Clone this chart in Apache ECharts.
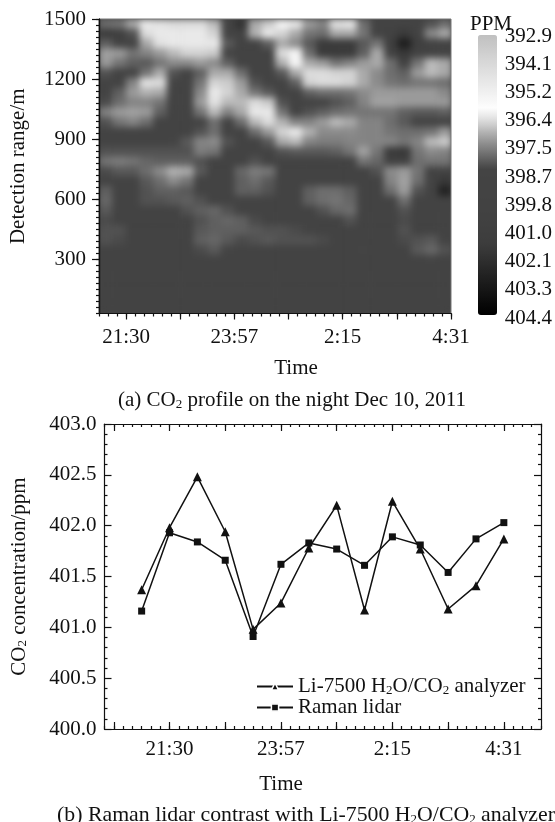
<!DOCTYPE html>
<html>
<head>
<meta charset="utf-8">
<style>
  html, body { margin: 0; background: #fff; }
  #heatBox { position: absolute; left: 98.5px; top: 19px; width: 352.5px; height: 294.5px; overflow: hidden; background: #444; }
  #heat { width: 352.5px; height: 294.5px; filter: blur(3.5px); }
  #main { position: absolute; left: 0; top: 0; width: 555px; height: 822px; }
</style>
<script src="https://cdn.jsdelivr.net/npm/echarts@6/dist/echarts.min.js"></script>
</head>
<body>
<div id="heatBox"><div id="heat"></div></div>
<div id="main"></div>
<script>
// profile values in ppm, one list per height band, top of the picture first
const B = 399.5; // the flat dark background level
const r00 = [397.8,397.7,397.0,396.2,396.3,396.4,396.4,396.4,396.8,B,402.0,397.0,396.6,396.0,396.2,397.2,397.5,396.3,396.2,397.8,B,B,B,B,398.2,397.8];
const r01 = [401.5,401.0,398.2,396.4,396.2,396.2,396.2,396.2,396.5,B,B,396.9,396.2,396.5,397.0,397.7,397.8,397.0,397.0,397.7,B,400.0,401.5,B,397.4,397.0];
const r02 = [398.0,B,B,397.0,396.3,396.2,396.2,396.2,396.2,398.1,B,B,398.0,397.0,397.4,398.1,401.5,401.5,401.5,398.1,397.7,401.0,403.0,401.0,B,B];
const r03 = [397.1,397.2,397.7,397.5,397.2,396.8,396.5,396.5,396.6,398.4,B,B,B,396.4,396.0,397.8,401.5,401.5,401.5,398.0,397.0,B,401.7,B,B,B];
const r04 = [397.2,397.7,398.0,398.1,397.7,397.4,397.4,397.2,397.4,398.0,B,B,B,396.9,396.0,397.0,397.2,397.7,397.5,397.2,397.0,397.8,B,397.7,396.8,397.0];
const r05 = [398.2,B,B,397.7,397.0,398.2,B,398.0,397.0,397.0,397.8,B,B,398.1,397.0,396.4,396.4,396.5,396.5,397.0,397.4,397.8,398.0,397.2,396.8,397.0];
const r06 = [B,B,397.5,396.3,396.4,398.4,B,397.7,396.5,396.6,397.2,398.2,B,B,398.0,396.5,396.4,396.4,396.5,397.0,397.4,397.7,397.8,397.7,397.7,397.8];
const r07 = [B,398.0,397.2,396.9,397.0,B,B,397.4,396.2,396.5,397.0,397.7,398.1,B,B,398.0,397.8,397.8,397.7,397.4,397.2,397.2,397.2,397.2,397.2,397.4];
const r08 = [398.3,397.8,397.5,397.5,397.7,B,B,397.2,396.3,396.8,396.8,396.4,396.6,398.2,B,B,B,398.2,398.0,397.5,397.1,397.1,397.2,397.2,397.2,397.2];
const r09 = [397.5,397.2,397.1,397.2,398.0,B,B,397.7,396.8,397.5,397.0,396.2,396.2,397.7,B,398.2,398.0,397.8,397.7,397.7,397.7,397.7,398.0,398.1,398.1,398.0];
const r10 = [398.2,397.7,397.5,397.8,B,B,B,B,397.8,B,397.8,396.8,396.4,396.9,397.5,397.5,397.2,396.8,397.0,397.5,397.5,397.8,398.1,B,B,B];
const r11 = [B,B,B,B,B,B,B,398.2,397.8,B,B,397.8,397.2,396.5,396.2,396.9,397.4,397.4,397.4,397.5,397.5,397.7,397.8,397.8,397.7,397.2];
const r12 = [B,B,B,B,B,398.4,398.1,397.5,397.4,398.2,B,B,398.1,397.0,396.8,397.5,397.6,397.6,397.5,397.5,397.5,397.5,397.7,397.5,396.8,396.6];
const r13 = [398.2,398.2,398.2,398.2,398.2,398.2,398.2,397.6,397.7,B,B,B,B,398.2,398.1,398.1,398.1,398.0,397.7,397.1,397.7,401.5,401.7,397.7,397.4,397.5];
const r14 = [397.7,397.6,397.7,397.9,398.0,398.0,398.0,398.2,B,B,B,398.2,B,B,B,B,B,B,B,397.7,397.9,400.0,400.0,397.8,397.7,397.7];
const r15 = [398.3,398.1,398.1,397.8,397.4,396.9,397.0,398.1,B,B,397.9,397.6,397.7,B,B,B,B,B,B,B,398.2,397.4,397.2,397.7,B,B];
const r16 = [B,B,B,398.1,397.8,397.4,397.7,B,B,B,398.0,397.8,398.1,B,B,B,B,B,B,B,B,397.5,397.1,397.8,B,401.7];
const r17 = [398.0,B,B,398.2,398.0,398.0,398.1,B,B,B,398.0,398.0,398.2,B,B,398.0,397.8,397.8,398.0,B,B,397.8,397.2,398.2,B,402.8];
const r18 = [397.9,B,B,398.2,398.2,398.1,398.0,398.2,B,B,B,B,B,B,B,398.0,397.8,397.7,397.9,B,B,B,397.8,B,B,B];
const r19 = [398.1,B,B,B,B,B,398.2,398.0,397.9,398.2,B,B,B,B,B,B,398.2,397.9,397.8,B,B,B,398.2,B,B,B];
const r20 = [398.3,B,B,B,B,B,B,398.2,398.0,397.9,398.0,398.3,B,B,B,B,B,B,398.2,B,B,B,398.3,B,B,B];
const r21 = [398.2,398.2,B,B,B,B,B,398.1,398.0,398.0,398.0,398.1,398.2,398.2,398.3,398.4,B,B,B,B,B,B,398.2,B,B,B];
const r22 = [398.2,398.3,B,B,B,B,B,398.0,397.9,398.1,398.3,398.2,398.1,398.2,398.2,398.2,398.3,B,B,B,B,B,398.3,398.2,398.1,398.4];
const r23 = [B,B,B,B,B,B,B,398.3,398.1,398.4,B,B,B,B,B,B,B,B,B,398.4,B,B,B,398.1,397.9,398.2];
const r24 = [B,B,B,B,B,B,B,B,B,B,B,B,B,B,B,B,B,B,B,B,B,B,B,B,398.4,B];
const r25 = [B,B,B,B,B,B,B,B,B,B,B,B,B,B,B,B,B,B,B,B,B,B,B,B,B,B];
const r26 = [B,B,B,B,B,B,B,B,B,B,B,B,B,B,B,B,B,B,B,B,B,B,B,B,B,B];
const r27 = [B,B,B,B,B,B,B,B,B,B,B,B,B,B,B,B,B,B,B,B,B,B,B,B,B,B];
const r28 = [B,B,B,B,B,B,B,B,B,B,B,B,B,B,B,B,B,B,B,B,B,B,B,B,B,B];
const r29 = [B,B,B,B,B,B,B,B,B,B,B,B,B,B,B,B,B,B,B,B,B,B,B,B,B,B];
const profileRows = [r00,r01,r02,r03,r04,r05,r06,r07,r08,r09,r10,r11,r12,r13,r14,r15,r16,r17,r18,r19,r20,r21,r22,r23,r24,r25,r26,r27,r28,r29];

// the two instruments, one value per sample
const li7500 = [401.37,401.98,402.48,401.94,400.98,401.24,401.78,402.20,401.17,402.24,401.77,401.18,401.41,401.87];
const raman = [401.16,401.93,401.84,401.66,400.91,401.62,401.83,401.77,401.61,401.89,401.81,401.54,401.87,402.03];
const sampleIndex = [0,1,2,3,4,5,6,7,8,9,10,11,12,13];

const timeTicks = [1,5,9,13];
const timeNames = {1:'21:30',5:'23:57',9:'2:15',13:'4:31'};
const heightTicks = [300,600,900,1200,1500];
const colorLabels = ['392.9','394.1','395.2','396.4','397.5','398.7','399.8','401.0','402.1','403.3','404.4'];
const grayRamp = ['#c0c0c0','#cacaca','#d5d5d5','#dfdfdf','#e9e9e9','#f3f3f3','#fdfdfd','#dddddd','#b2b2b2','#8b8b8b','#676767','#444444','#434343','#434343','#424242','#414141','#3f3f3f','#3d3d3d','#343434','#292929','#1f1f1f','#151515','#0a0a0a','#000000'];

const FONT = '"Liberation Serif", serif';
const sub = { sub: { fontSize: 13, fontFamily: FONT, color: '#111', verticalAlign: 'bottom', padding: [8, 0, 0, 0] } };
const lineStyle = { color: '#111', width: 1.2 };
const bigText = { fontSize: 21, fontWeight: 'normal', color: '#111', fontFamily: FONT };

// heatmap goes in its own canvas, it gets blurred by css
const heatCells = [];
profileRows.forEach((row, r) => row.forEach((v, c) => heatCells.push([c, r, v])));
const heat = echarts.init(document.getElementById('heat'));
heat.setOption({
  animation: false,
  grid: { left: 0, right: 0, top: 0, bottom: 0 },
  xAxis: { type: 'category', show: false, data: r00.map((v, i) => i) },
  yAxis: { type: 'category', show: false, inverse: true, data: profileRows.map((v, i) => i) },
  visualMap: { show: false, min: 392.9, max: 404.4, inRange: { color: grayRamp } },
  series: [{ type: 'heatmap', data: heatCells, progressive: 0 }]
});

const hidden = { show: false };
const tickAxis = (grid, pos, min, max, interval, len, inside, extra) => Object.assign({
  type: 'value', gridIndex: grid, position: pos, min: min, max: max, interval: interval,
  axisLine: { show: true, onZero: false, lineStyle: lineStyle },
  axisTick: { show: true, inside: inside, length: len, lineStyle: lineStyle },
  axisLabel: hidden, splitLine: hidden
}, extra || {});
const oddTicks = [-1,1,3,5,7,9,11,13];
const label = { show: true, color: '#111', fontFamily: FONT, fontSize: 21 };

const main = echarts.init(document.getElementById('main'));
main.setOption({
  animation: false,
  textStyle: { fontFamily: FONT },
  title: [
    { text: 'PPM', left: 486, top: 9, textAlign: 'center', textStyle: bigText },
    { text: 'Time', left: 291, top: 353, textAlign: 'center', textStyle: bigText },
    { text: 'Time', left: 276, top: 769, textAlign: 'center', textStyle: bigText },
    { text: '(a) CO{sub|2} profile on the night Dec 10, 2011', left: 287, top: 385, textAlign: 'center', textStyle: Object.assign({ rich: sub }, bigText) },
    { text: '(b) Raman lidar contrast with Li-7500 H{sub|2}O/CO{sub|2} analyzer', left: 301, top: 799, textAlign: 'center', textStyle: Object.assign({ rich: sub }, bigText, { fontSize: 21.8 }) }
  ],
  grid: [
    { left: 98.5, top: 19, width: 352.5, height: 294.5, show: true, borderColor: '#777', borderWidth: 1 },
    { left: 104.5, top: 424, width: 436.5, height: 305 },
    { left: 478, top: 36, width: 19, height: 282 }
  ],
  xAxis: [
    tickAxis(0, 'bottom', 0, 13, 1, 5, false, {
      axisTick: { show: true, length: 6, customValues: [1,3,5,7,9,11,13], lineStyle: lineStyle },
      axisLabel: Object.assign({ margin: 13, customValues: timeTicks, formatter: v => timeNames[v] }, label)
    }),
    tickAxis(0, 'bottom', 0, 13, 1 / 3, 3, false),
    tickAxis(1, 'bottom', -4 / 3, 43 / 3, 1, 6, true, {
      axisTick: { show: true, inside: true, length: 7, customValues: oddTicks, lineStyle: lineStyle },
      axisLabel: Object.assign({ margin: 10, customValues: timeTicks, formatter: v => timeNames[v] }, label)
    }),
    tickAxis(1, 'bottom', -4 / 3, 43 / 3, 1 / 3, 3, true),
    tickAxis(1, 'top', -4 / 3, 43 / 3, 1, 6, true, {
      axisTick: { show: true, inside: true, length: 7, customValues: oddTicks, lineStyle: lineStyle }
    }),
    tickAxis(1, 'top', -4 / 3, 43 / 3, 1 / 3, 3, true),
    { type: 'value', gridIndex: 2, show: false, min: 0, max: 1 }
  ],
  yAxis: [
    tickAxis(0, 'left', 30, 1500, 30, 3, false, {
      axisTick: { show: true, length: 7, customValues: heightTicks, lineStyle: lineStyle },
      axisLabel: Object.assign({ margin: 13, customValues: heightTicks, formatter: v => String(v) }, label),
      name: 'Detection range/m', nameLocation: 'middle', nameGap: 70,
      nameTextStyle: { fontSize: 21, color: '#111', fontFamily: FONT }
    }),
    tickAxis(0, 'left', 30, 1500, 30, 3, false),
    tickAxis(1, 'left', 400, 403, 0.5, 7, true, {
      minorTick: { show: true, splitNumber: 5, length: 3, lineStyle: lineStyle },
      axisLabel: Object.assign({ margin: 8, formatter: v => v.toFixed(1) }, label),
      name: 'CO{sub|2} concentration/ppm', nameLocation: 'middle', nameGap: 75,
      nameTextStyle: { fontSize: 21, color: '#111', fontFamily: FONT, rich: sub }
    }),
    tickAxis(1, 'right', 400, 403, 0.5, 7, true, {
      minorTick: { show: true, splitNumber: 5, length: 3, lineStyle: lineStyle }
    }),
    {
      type: 'category', gridIndex: 2, inverse: true, boundaryGap: false, data: colorLabels, position: 'right',
      axisLine: hidden, axisTick: hidden, splitLine: hidden,
      axisLabel: Object.assign({ margin: 8, interval: 0 }, label)
    }
  ],
  visualMap: {
    type: 'continuous', seriesIndex: [], min: 392.9, max: 404.4, inverse: true, calculable: false,
    left: 478, top: 35, itemWidth: 19, itemHeight: 280, padding: 0, text: null, itemBorderRadius: 0, inRange: { color: grayRamp }
  },
  legend: {
    left: 251, top: 671, orient: 'vertical', itemWidth: 36, itemHeight: 9, itemGap: 0,
    data: ['Li-7500', 'Raman lidar'],
    itemStyle: { borderColor: '#fff', borderWidth: 1.5 },
    formatter: n => n === 'Li-7500' ? 'Li-7500 H{sub|2}O/CO{sub|2} analyzer' : n,
    textStyle: { fontSize: 21, color: '#111', fontFamily: FONT, rich: sub }
  },
  series: [
    {
      name: 'Li-7500', type: 'line', xAxisIndex: 2, yAxisIndex: 2, data: sampleIndex.map(i => [i, li7500[i]]),
      symbol: 'triangle', symbolSize: 9, itemStyle: { color: '#111' }, lineStyle: { color: '#111', width: 1.5 }
    },
    {
      name: 'Raman lidar', type: 'line', xAxisIndex: 2, yAxisIndex: 2, data: sampleIndex.map(i => [i, raman[i]]),
      symbol: 'rect', symbolSize: 7, itemStyle: { color: '#111' }, lineStyle: { color: '#111', width: 1.5 }
    }
  ]
});
</script>
</body>
</html>
